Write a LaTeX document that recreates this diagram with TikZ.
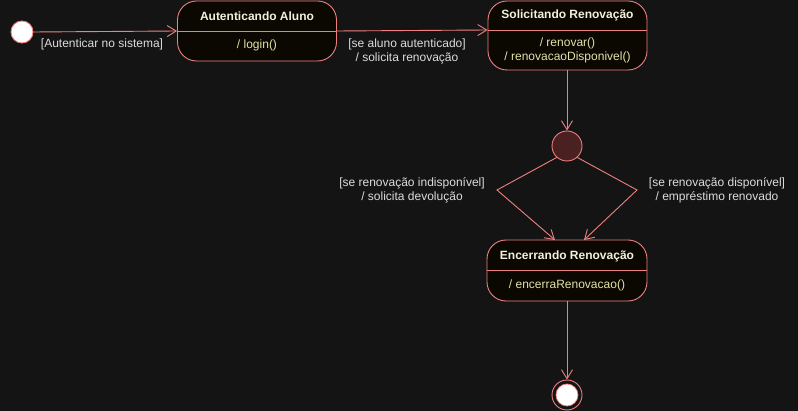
\documentclass[tikz,border=0pt]{standalone}
\usepackage{fontspec}
\setmainfont{Liberation Sans}
\usetikzlibrary{arrows.meta}
\definecolor{bg}{HTML}{141414}
\definecolor{edgec}{HTML}{F08080}
\definecolor{boxfill}{HTML}{0A0800}
\definecolor{titlec}{HTML}{F2F2DC}
\definecolor{actc}{HTML}{E2E2A8}
\definecolor{labc}{HTML}{DCDCDC}
\definecolor{choicefill}{HTML}{4A2020}
\begin{document}
\begin{tikzpicture}[x=1pt,y=-1pt,
  statebox/.style={draw=edgec, fill=boxfill, rounded corners=19pt, line width=0.9pt, inner sep=0pt},
  divider/.style={draw=edgec, line width=0.9pt},
  titletxt/.style={text=titlec, font=\fontsize{12}{14}\selectfont\bfseries, inner sep=0pt},
  acttxt/.style={text=actc, font=\fontsize{12}{14}\selectfont, align=center, inner sep=0pt},
  labtxt/.style={text=labc, font=\fontsize{12}{14}\selectfont, align=center, inner sep=0pt},
  conn/.style={draw=edgec, line width=0.9pt},
  arr/.style={conn, -{Straight Barb[length=9pt,width=11pt]}}
]
\fill[bg] (0,0) rectangle (798,411);
\useasboundingbox (0,0) rectangle (798,411);

% initial state
\node[circle, fill=white, draw=edgec, line width=0.9pt, minimum size=22pt, inner sep=0pt] (init) at (22,32) {};

% state 1
\node[statebox, minimum width=159pt, minimum height=60pt] (s1) at (257,31) {};
\draw[divider] (s1.west) -- (s1.east);
\node[titletxt] (t1) at (257,16) {Autenticando Aluno};
\node[acttxt] (a1) at (257,45.5) {/ login()};

% state 2
\node[statebox, minimum width=159pt, minimum height=69pt] (s2) at (567.5,35.5) {};
\coordinate (d2) at (567.5,30);
\draw[divider] (s2.west |- d2) -- (s2.east |- d2);
\node[titletxt] (t2) at (567.5,15.5) {Solicitando Renovação};
\node[acttxt] (a2) at (567.5,50.5) {/ renovar()\\/ renovacaoDisponivel()};

% choice
\node[circle, fill=choicefill, draw=edgec, line width=0.9pt, minimum size=30pt, inner sep=0pt] (choice) at (567,146) {};

% state 3
\node[statebox, minimum width=160pt, minimum height=61pt] (s3) at (567,270.5) {};
\draw[divider] (s3.west) -- (s3.east);
\node[titletxt] (t3) at (567,256) {Encerrando Renovação};
\node[acttxt] (a3) at (567,285.5) {/ encerraRenovacao()};

% final state
\node[circle, fill=bg, draw=edgec, line width=0.9pt, minimum size=30pt, inner sep=0pt] (final) at (567,395) {};
\node[circle, fill=white, draw=edgec, line width=0.7pt, minimum size=22pt, inner sep=0pt] (finalin) at (567,395) {};

% connectors
\draw[arr] (init.east) -- (s1.west);
\node[labtxt] (l1) at (102,44.5) {[Autenticar no sistema]};

\coordinate (s2in) at (488,30);
\draw[arr] (s1.east) -- (s2.west |- s2in);
\node[labtxt] (l2) at (407,51) {[se aluno autenticado]\\/ solicita renovação};

\draw[arr] (s2.south -| choice) -- (choice.north);

\coordinate (cl) at (497,190);
\coordinate (cr) at (637,190);
\coordinate (s3l) at (555,240);
\coordinate (s3r) at (584,240);
\draw[arr] (choice.228) -- (cl) -- (s3l);
\draw[arr] (choice.312) -- (cr) -- (s3r);
\node[labtxt] (l3) at (412,190.5) {[se renovação indisponível]\\/ solicita devolução};
\node[labtxt] (l4) at (717,190.5) {[se renovação disponível]\\/ empréstimo renovado};

\draw[arr] (s3.south) -- (final.north);
\end{tikzpicture}
\end{document}
